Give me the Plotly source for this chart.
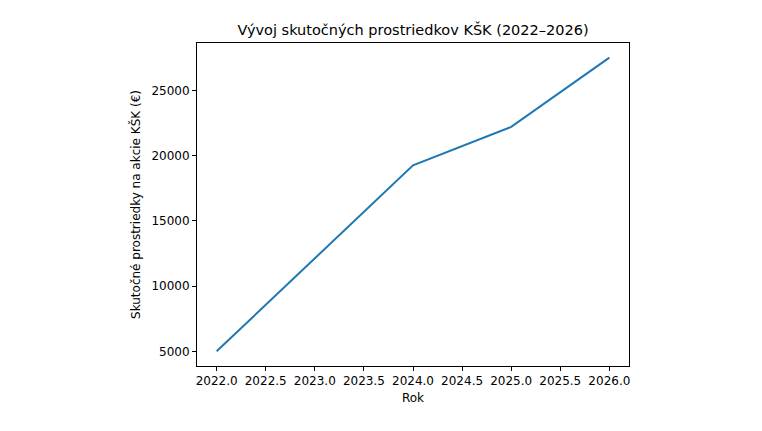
import plotly.graph_objects as go

years = [2022, 2023, 2024, 2025, 2026]
funds = [5000, 12100, 19250, 22200, 27500]

title_text = "Vývoj skutočných prostriedkov KŠK (2022–2026)"
x_label = "Rok"
y_label = "Skutočné prostriedky na akcie KŠK (€)"

W, H = 762, 431
OFF = 8  # page offset of the plot div
L, R, T, B = 197 - OFF, 629 - OFF, 43 - OFF, 366 - OFF

fig = go.Figure()
fig.add_trace(go.Scatter(x=years, y=funds, mode="lines",
                         line=dict(color="#1f77b4", width=2)))

font = dict(family="DejaVu Sans", size=12, color="#000000")
ymin, ymax = min(funds), max(funds)
pad = 0.05 * (ymax - ymin)
xpad = 0.05 * (max(years) - min(years))

fig.update_layout(
    width=W, height=H,
    margin=dict(l=L, r=W - R, t=T, b=H - B, autoexpand=False),
    paper_bgcolor="white", plot_bgcolor="white",
    showlegend=False,
    font=font,
    title=dict(text=title_text, x=(L + R) / 2 / W, xanchor="center",
               y=1 - (30 - OFF) / H, yanchor="middle", yref="container",
               font=dict(family="DejaVu Sans", size=14.5, color="#000000")),
)
axis_common = dict(showgrid=False, zeroline=False, showline=True, linecolor="#000000",
                   linewidth=1, mirror=True, ticks="outside", ticklen=4,
                   tickcolor="#000000", tickwidth=1, tickfont=font, automargin=False)
fig.update_xaxes(range=[min(years) - xpad, max(years) + xpad], dtick=0.5, tick0=2022,
                 tickformat=".1f", title=dict(text=x_label, font=font, standoff=6),
                 **axis_common)
fig.update_yaxes(range=[ymin - pad, ymax + pad], dtick=5000, tick0=0,
                 tickformat="d", title=dict(text=y_label, font=font, standoff=8),
                 **axis_common)

fig.write_html("out.html")
